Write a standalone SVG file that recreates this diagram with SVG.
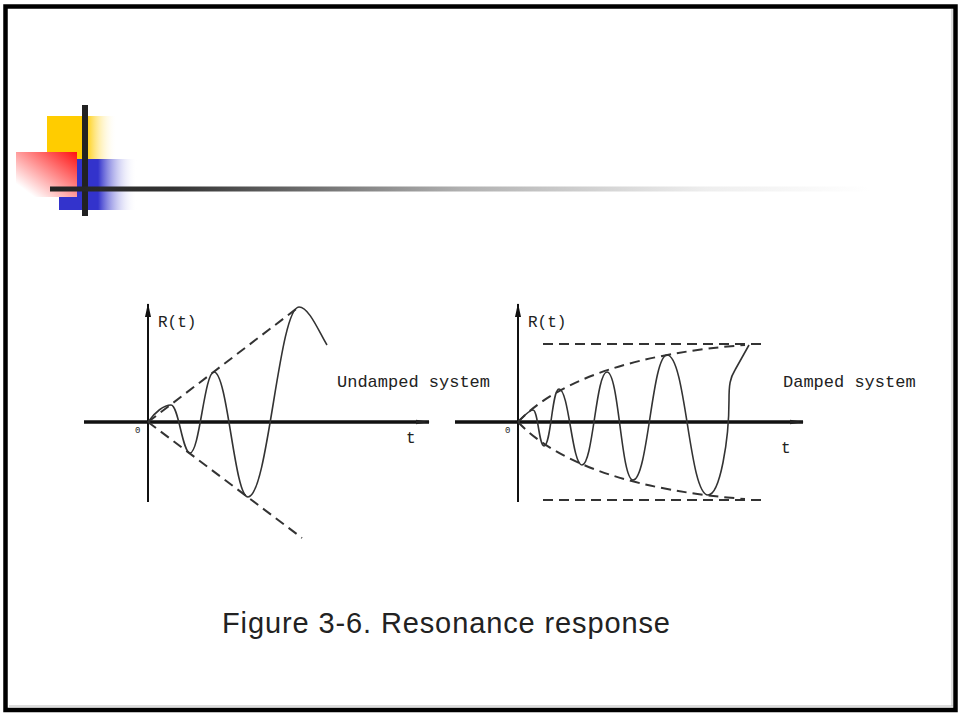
<svg xmlns="http://www.w3.org/2000/svg" width="960" height="720" viewBox="0 0 960 720">
<defs>
  <linearGradient id="gYellow" x1="0" y1="0" x2="1" y2="0">
    <stop offset="0" stop-color="#FFCC00"/>
    <stop offset="0.55" stop-color="#FFCC00"/>
    <stop offset="1" stop-color="#FFFFFF" stop-opacity="0"/>
  </linearGradient>
  <linearGradient id="gBlue" x1="0" y1="0" x2="1" y2="0">
    <stop offset="0" stop-color="#3333CC"/>
    <stop offset="0.5" stop-color="#3333CC"/>
    <stop offset="1" stop-color="#FFFFFF" stop-opacity="0"/>
  </linearGradient>
  <linearGradient id="gRed" x1="1" y1="0" x2="0" y2="1">
    <stop offset="0" stop-color="#FF1111"/>
    <stop offset="0.85" stop-color="#FFFFFF"/>
    <stop offset="1" stop-color="#FFFFFF"/>
  </linearGradient>
  <linearGradient id="gBar" x1="0" y1="0" x2="1" y2="0">
    <stop offset="0" stop-color="#222222"/>
    <stop offset="0.15" stop-color="#333333"/>
    <stop offset="0.5" stop-color="#b0b0b0"/>
    <stop offset="0.8" stop-color="#eeeeee"/>
    <stop offset="1" stop-color="#ffffff"/>
  </linearGradient>
  <marker id="arrX" viewBox="0 0 14 6" refX="13" refY="3" markerWidth="14" markerHeight="6" markerUnits="userSpaceOnUse" orient="auto">
    <path d="M0,0.8 L14,3 L0,5.2 Z" fill="#222"/>
  </marker>
  <marker id="arrY" viewBox="0 0 14 6" refX="13" refY="3" markerWidth="14" markerHeight="6" markerUnits="userSpaceOnUse" orient="auto">
    <path d="M0,0 L14,3 L0,6 Z" fill="#111"/>
  </marker>
</defs>
<style>
  .axis { stroke:#111; fill:none; }
  .xaxis { stroke-width:3.5; }
  .yaxis { stroke-width:2; }
  .curve { stroke:#333; stroke-width:1.6; fill:none; }
  .dash { stroke:#333; stroke-width:2; fill:none; stroke-dasharray:10 6; }
  .lbl { font-family:"Liberation Mono","DejaVu Sans Mono",monospace; fill:#222; }
  .cap { font-family:"Liberation Sans",Arial,sans-serif; font-size:29px; fill:#222; }
</style>
<rect width="960" height="720" fill="#ffffff"/>
<g id="frame">
  <rect x="5.5" y="6.5" width="950" height="703.5" fill="none" stroke="#000" stroke-width="4.5"/>
  <line x1="9" y1="706" x2="953" y2="706" stroke="#bbb" stroke-width="1"/>
  <line x1="952" y1="9" x2="952" y2="706" stroke="#bbb" stroke-width="1"/>
</g>
<g id="decoration">
  <rect x="47" y="116" width="70" height="44" fill="url(#gYellow)"/>
  <rect x="59" y="159" width="78" height="51" fill="url(#gBlue)"/>
  <rect x="16" y="152" width="61" height="45" fill="url(#gRed)"/>
  <rect x="82" y="105" width="6" height="111" fill="#222"/>
  <rect x="50" y="186.5" width="820" height="5" fill="url(#gBar)"/>
</g>
<g id="undamped-graph">
  <line class="axis yaxis" x1="148" y1="502" x2="148" y2="304" marker-end="url(#arrY)"/>
  <line class="axis xaxis" x1="84" y1="422" x2="429" y2="422" marker-end="url(#arrX)"/>
  <text class="lbl" x="158" y="327" font-size="16">R(t)</text>
  <text class="lbl" x="135" y="433" font-size="9">0</text>
  <text class="lbl" x="406" y="443" font-size="16">t</text>
  <path class="dash" d="M148,422 L300,306"/>
  <path class="dash" d="M148,422 L302,538"/>
  <path class="curve" d="M148,422 C155,412 164,405 171,405 C178.6,405 182.4,453 190,453 C199.6,453 204.4,372 214,372 C227.6,372 234.4,497 248,497 C268,497 279,307 299,307 C309,307 319,332 327,345"/>
  <text class="lbl" x="337" y="387" font-size="17">Undamped system</text>
</g>
<g id="damped-graph">
  <line class="axis yaxis" x1="518" y1="502" x2="518" y2="304" marker-end="url(#arrY)"/>
  <line class="axis xaxis" x1="455" y1="422" x2="803" y2="422" marker-end="url(#arrX)"/>
  <text class="lbl" x="528" y="327" font-size="16">R(t)</text>
  <text class="lbl" x="505" y="433" font-size="9">0</text>
  <text class="lbl" x="781" y="453" font-size="16">t</text>
  <path class="dash" d="M543,344 L763,344"/>
  <path class="dash" d="M543,500 L763,500"/>
  <path class="dash" d="M518,422 C560,378 640,353 745,345"/>
  <path class="dash" d="M518,422 C560,466 640,491 745,499"/>
  <path class="curve" d="M518,422 C523,417 529,410 533,410 C538,410 539,446 544,446 C551,446 552,389 559,389 C569,389 572,465 582,465 C593,465 596,372 607,372 C619,372 621,480 633,480 C648,480 652,355 667,355 C686,355 689,495 708,495 C720,495 729,440 729,400 C729,385 730,378 735,370 L749,345"/>
  <text class="lbl" x="783" y="387" font-size="17">Damped system</text>
</g>
<g id="caption">
  <text class="cap" x="222" y="633" textLength="448" lengthAdjust="spacing">Figure 3-6. Resonance response</text>
</g>
</svg>
